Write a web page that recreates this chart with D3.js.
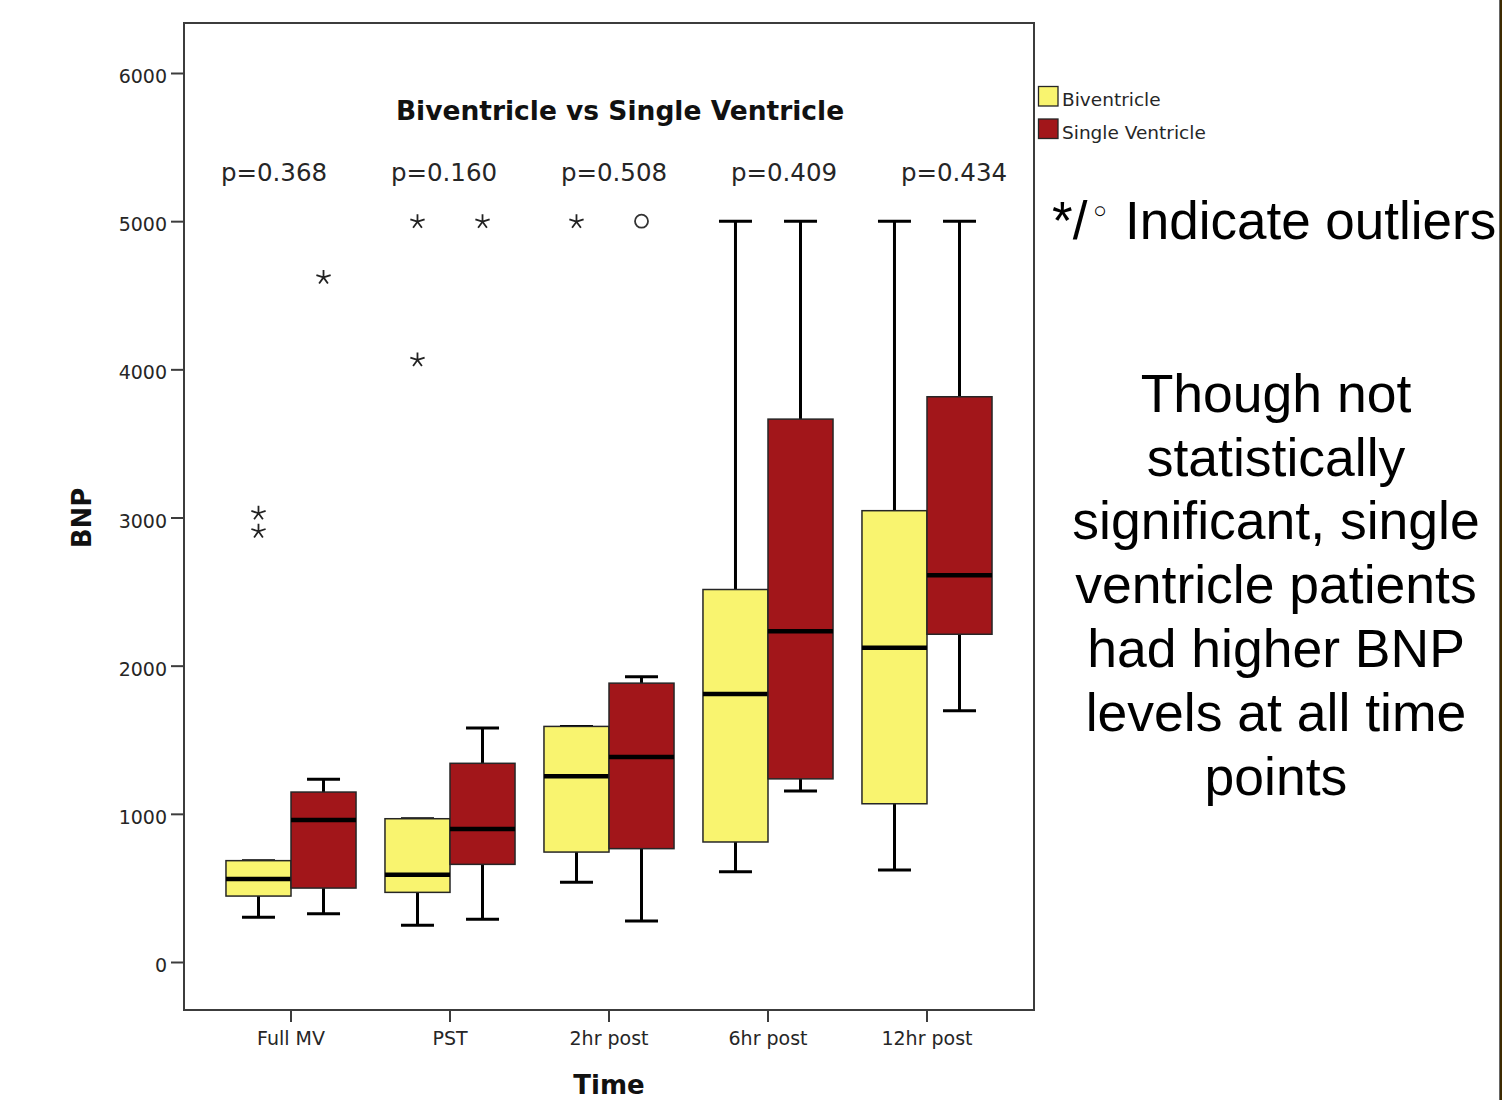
<!DOCTYPE html>
<html>
<head>
<meta charset="utf-8">
<script src="https://cdn.jsdelivr.net/npm/d3@7"></script>
<style>
  html, body { margin: 0; padding: 0; background: #fff; }
  svg { display: block; }
</style>
</head>
<body>
<svg id="chart" width="1502" height="1100"></svg>
<script>
// ---------------- DATA ----------------
const categories = ["Full MV", "PST", "2hr post", "6hr post", "12hr post"];
const groups = ["Biventricle", "Single Ventricle"];
const pValues = ["p=0.368", "p=0.160", "p=0.508", "p=0.409", "p=0.434"];
const yTicks = [0, 1000, 2000, 3000, 4000, 5000, 6000];

// Biventricle box statistics per category
const biLower  = [302, 248, 538, 609, 621];
const biQ1     = [445, 470, 742, 810, 1068];
const biMedian = [560, 589, 1254, 1808, 2121];
const biQ3     = [684, 967, 1590, 2514, 3046];
const biUpper  = [684, 967, 1590, 5000, 5000];

// Single Ventricle box statistics per category
const svLower  = [326, 288, 277, 1154, 1696];
const svQ1     = [499, 659, 765, 1236, 2212];
const svMedian = [958, 897, 1383, 2233, 2611];
const svQ3     = [1147, 1341, 1882, 3664, 3815];
const svUpper  = [1234, 1579, 1925, 5000, 5000];

// Outliers: [category, group, value, kind]
const outlierCats   = ["Full MV", "Full MV", "Full MV", "PST", "PST", "PST", "2hr post", "2hr post"];
const outlierGroups = ["Biventricle", "Biventricle", "Single Ventricle", "Biventricle", "Biventricle", "Single Ventricle", "Biventricle", "Single Ventricle"];
const outlierValues = [3032, 2910, 4624, 5000, 4067, 5000, 5000, 5000];
const outlierKinds  = ["star", "star", "star", "star", "star", "star", "star", "circle"];

const noteLines = ["Though not", "statistically", "significant, single", "ventricle patients", "had higher BNP", "levels at all time", "points"];

const colors = { "Biventricle": "#f9f46f", "Single Ventricle": "#a2161a" };

// ---------------- BUILD ----------------
const stats = {
  "Biventricle": categories.map((c, i) => ({cat: c, lo: biLower[i], q1: biQ1[i], med: biMedian[i], q3: biQ3[i], hi: biUpper[i]})),
  "Single Ventricle": categories.map((c, i) => ({cat: c, lo: svLower[i], q1: svQ1[i], med: svMedian[i], q3: svQ3[i], hi: svUpper[i]}))
};
const outliers = outlierValues.map((v, i) => ({cat: outlierCats[i], group: outlierGroups[i], value: v, kind: outlierKinds[i]}));

const svg = d3.select("#chart");
const frame = {left: 184, top: 23, right: 1034, bottom: 1010};

const x = d3.scaleBand().domain(categories).range([frame.left, frame.right])
  .paddingInner(0.182).paddingOuter(0.264);
const xSub = d3.scaleBand().domain(groups).range([0, x.bandwidth()]);
const y = d3.scaleLinear().domain([0, 6000]).range([962, 73]);
const xP = d3.scaleBand().domain(categories).range([frame.left + 5, frame.right + 5]);

const tickFont = "DejaVu Sans";

// Frame
svg.append("rect")
  .attr("x", frame.left).attr("y", frame.top)
  .attr("width", frame.right - frame.left).attr("height", frame.bottom - frame.top)
  .attr("fill", "none").attr("stroke", "#3c3c3c").attr("stroke-width", 2);

// Y axis
const yAxis = svg.append("g").attr("transform", `translate(${frame.left},0)`)
  .call(d3.axisLeft(y).tickValues(yTicks).tickFormat(d3.format("d")).tickSize(13).tickSizeOuter(0).tickPadding(4));
yAxis.select(".domain").remove();
yAxis.selectAll(".tick line").attr("stroke", "#3c3c3c").attr("stroke-width", 2);
yAxis.selectAll(".tick text").attr("font-family", tickFont).attr("font-size", 19).attr("fill", "#262626").attr("dy", "0.5em");

// X axis
const xAxis = svg.append("g").attr("transform", `translate(0,${frame.bottom})`)
  .call(d3.axisBottom(x).tickSize(12).tickSizeOuter(0).tickPadding(10));
xAxis.select(".domain").remove();
xAxis.selectAll(".tick line").attr("stroke", "#3c3c3c").attr("stroke-width", 2);
xAxis.selectAll(".tick text").attr("font-family", tickFont).attr("font-size", 19).attr("fill", "#262626");

// Boxes
const capW = 33;
groups.forEach(g => {
  const gEl = svg.append("g");
  stats[g].forEach(d => {
    const x0 = x(d.cat) + xSub(g);
    const w = xSub.bandwidth();
    const cx = x0 + w / 2;
    // whiskers
    gEl.append("line").attr("x1", cx).attr("x2", cx).attr("y1", y(d.q3)).attr("y2", y(d.hi))
      .attr("stroke", "#000").attr("stroke-width", 3);
    gEl.append("line").attr("x1", cx).attr("x2", cx).attr("y1", y(d.q1)).attr("y2", y(d.lo))
      .attr("stroke", "#000").attr("stroke-width", 3);
    gEl.append("line").attr("x1", cx - capW / 2).attr("x2", cx + capW / 2).attr("y1", y(d.hi)).attr("y2", y(d.hi))
      .attr("stroke", "#000").attr("stroke-width", 3);
    gEl.append("line").attr("x1", cx - capW / 2).attr("x2", cx + capW / 2).attr("y1", y(d.lo)).attr("y2", y(d.lo))
      .attr("stroke", "#000").attr("stroke-width", 3);
    // box
    gEl.append("rect").attr("x", x0).attr("y", y(d.q3)).attr("width", w).attr("height", y(d.q1) - y(d.q3))
      .attr("fill", colors[g]).attr("stroke", "#262626").attr("stroke-width", 1.5);
    // median
    gEl.append("line").attr("x1", x0).attr("x2", x0 + w).attr("y1", y(d.med)).attr("y2", y(d.med))
      .attr("stroke", "#000").attr("stroke-width", 4.5);
  });
});

// Outliers
function starPath(r) {
  let p = "";
  for (let k = 0; k < 5; k++) {
    const a = (-90 + 72 * k) * Math.PI / 180;
    p += `M0,0L${(r * Math.cos(a)).toFixed(2)},${(r * Math.sin(a)).toFixed(2)}`;
  }
  return p;
}
outliers.forEach(o => {
  const cx = x(o.cat) + xSub(o.group) + xSub.bandwidth() / 2;
  const cy = y(o.value);
  if (o.kind === "star") {
    svg.append("path").attr("d", starPath(7.5)).attr("transform", `translate(${cx},${cy + 0.5})`)
      .attr("fill", "none").attr("stroke", "#222").attr("stroke-width", 1.8);
  } else {
    svg.append("circle").attr("cx", cx).attr("cy", cy).attr("r", 6.5)
      .attr("fill", "none").attr("stroke", "#333").attr("stroke-width", 1.8);
  }
});

// Title
svg.append("text").attr("x", 620).attr("y", 119.5).attr("text-anchor", "middle")
  .attr("font-family", "DejaVu Sans").attr("font-weight", "bold").attr("font-size", 26.5)
  .attr("fill", "#111").text("Biventricle vs Single Ventricle");

// p-values
svg.append("g").selectAll("text").data(categories).join("text")
  .attr("x", (d) => xP(d) + xP.bandwidth() / 2)
  .attr("y", 181).attr("text-anchor", "middle")
  .attr("font-family", "DejaVu Sans").attr("font-size", 24.5).attr("fill", "#262626")
  .text((d, i) => pValues[i]);

// Axis titles
svg.append("text").attr("transform", "translate(91,518) rotate(-90)").attr("text-anchor", "middle")
  .attr("font-family", "DejaVu Sans").attr("font-weight", "bold").attr("font-size", 26)
  .attr("fill", "#111").text("BNP");
svg.append("text").attr("x", 609).attr("y", 1094).attr("text-anchor", "middle")
  .attr("font-family", "DejaVu Sans").attr("font-weight", "bold").attr("font-size", 26)
  .attr("fill", "#111").text("Time");

// Legend
const legend = svg.append("g");
groups.forEach((g, i) => {
  legend.append("rect").attr("x", 1038.5).attr("y", 86.5 + i * 32.5).attr("width", 19.5).attr("height", 19.5)
    .attr("fill", colors[g]).attr("stroke", "#262626").attr("stroke-width", 1.3);
  legend.append("text").attr("x", 1062).attr("y", 106 + i * 32.5)
    .attr("font-family", "DejaVu Sans").attr("font-size", 18.5).attr("fill", "#262626").text(g);
});

// Right annotation
svg.append("text").attr("x", 1052).attr("y", 239)
  .attr("font-family", "Liberation Sans").attr("font-size", 53).attr("fill", "#000").text("*/");
svg.append("text").attr("x", 1100).attr("y", 224).attr("text-anchor", "middle")
  .attr("font-family", "DejaVu Sans").attr("font-size", 34).attr("fill", "#000").text("◦");
svg.append("text").attr("x", 1125).attr("y", 239)
  .attr("font-family", "Liberation Sans").attr("font-size", 53).attr("fill", "#000").text("Indicate outliers");

svg.append("g").selectAll("text").data(noteLines).join("text")
  .attr("x", 1276).attr("y", (d, i) => 411.7 + i * 63.8).attr("text-anchor", "middle")
  .attr("font-family", "Liberation Sans").attr("font-size", 53.5).attr("fill", "#000")
  .text(d => d);

// Right border line of the slide
svg.append("line").attr("x1", 1499.5).attr("x2", 1499.5).attr("y1", 0).attr("y2", 1100)
  .attr("stroke", "#666").attr("stroke-width", 1);
svg.append("line").attr("x1", 1501).attr("x2", 1501).attr("y1", 0).attr("y2", 1100)
  .attr("stroke", "#3d2a00").attr("stroke-width", 2);
</script>
</body>
</html>
